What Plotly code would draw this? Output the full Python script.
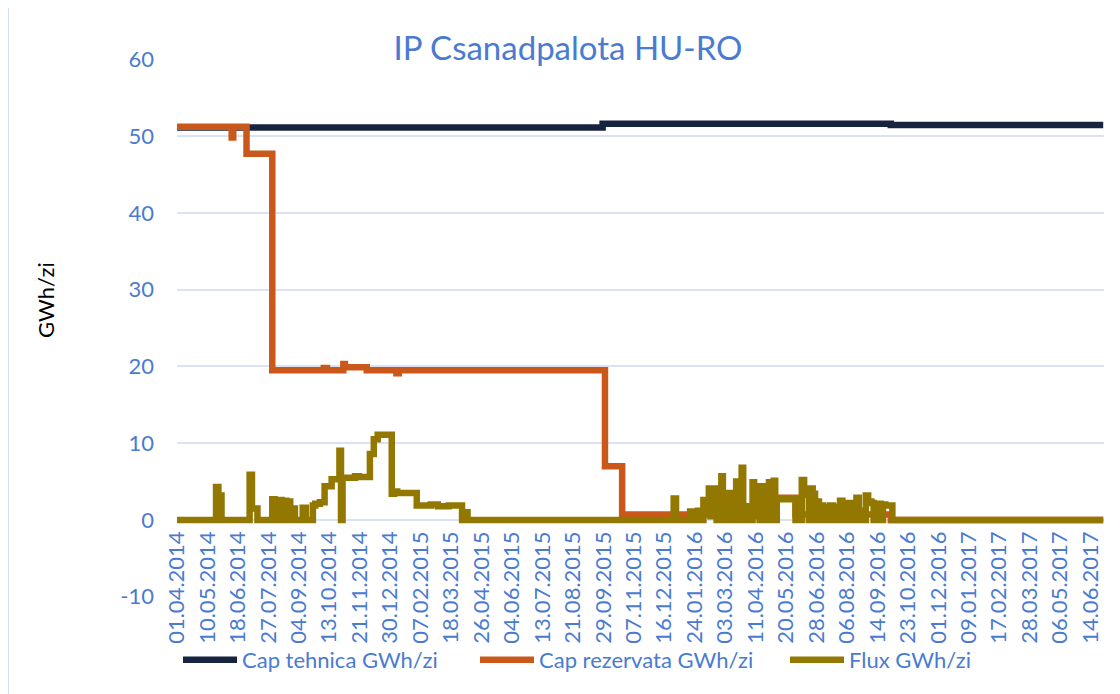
import plotly.graph_objects as go
from datetime import datetime

# ---------------- data ----------------
tick_labels = [
    "01.04.2014", "10.05.2014", "18.06.2014", "27.07.2014", "04.09.2014", "13.10.2014",
    "21.11.2014", "30.12.2014", "07.02.2015", "18.03.2015", "26.04.2015", "04.06.2015",
    "13.07.2015", "21.08.2015", "29.09.2015", "07.11.2015", "16.12.2015", "24.01.2016",
    "03.03.2016", "11.04.2016", "20.05.2016", "28.06.2016", "06.08.2016", "14.09.2016",
    "23.10.2016", "01.12.2016", "09.01.2017", "17.02.2017", "28.03.2017", "06.05.2017",
    "14.06.2017",
]
y_tick_values = [-10, 0, 10, 20, 30, 40, 50, 60]
y_tick_labels = ["-10", "0", "10", "20", "30", "40", "50", "60"]

tehnica_dates = ["2014-04-01", "2015-09-28", "2016-10-01", "2017-06-30"]
tehnica_values = [51.1, 51.6, 51.45, 51.45]

rezervata_dates = [
    "2014-04-01", "2014-06-10", "2014-06-12", "2014-06-29", "2014-08-01", "2014-10-06",
    "2014-10-10", "2014-10-31", "2014-11-02", "2014-11-30", "2015-01-07", "2015-01-10",
    "2015-10-01", "2015-10-23", "2016-05-08", "2016-06-01", "2016-10-01", "2017-06-30",
]
rezervata_values = [
    51.2, 49.8, 51.2, 47.7, 19.5, 19.8,
    19.5, 20.3, 19.9, 19.5, 19.1, 19.5,
    7.0, 0.7, 2.9, 0.7, 0.0, 0.0,
]

flux_dates = [
    "2014-04-01", "2014-05-21", "2014-05-24", "2014-05-28", "2014-07-03", "2014-07-06",
    "2014-07-13", "2014-08-01", "2014-08-04", "2014-08-07", "2014-08-10", "2014-08-13",
    "2014-08-16", "2014-08-19", "2014-08-21", "2014-08-24", "2014-08-27", "2014-08-30",
    "2014-09-09", "2014-09-13", "2014-09-22", "2014-09-25", "2014-10-01", "2014-10-07",
    "2014-10-16", "2014-10-26", "2014-10-28", "2014-10-30", "2014-11-15", "2014-11-20",
    "2014-12-04", "2014-12-09", "2014-12-14", "2015-01-01", "2015-01-04", "2015-01-08",
    "2015-02-02", "2015-02-20", "2015-03-01", "2015-03-15", "2015-04-01", "2015-04-05",
    "2015-04-08", "2015-12-28", "2015-12-31", "2016-01-18", "2016-01-20", "2016-01-28",
    "2016-01-30", "2016-02-04", "2016-02-06", "2016-02-11", "2016-02-13", "2016-02-15",
    "2016-02-19", "2016-02-21", "2016-02-23", "2016-02-27", "2016-02-29", "2016-03-02",
    "2016-03-07", "2016-03-09", "2016-03-12", "2016-03-17", "2016-03-19", "2016-03-24",
    "2016-03-26", "2016-03-30", "2016-04-02", "2016-04-07", "2016-04-09", "2016-04-14",
    "2016-04-16", "2016-04-18", "2016-04-21", "2016-04-23", "2016-04-28", "2016-04-30",
    "2016-05-04", "2016-05-06", "2016-05-08", "2016-06-01", "2016-06-09", "2016-06-12",
    "2016-06-18", "2016-06-20", "2016-06-23", "2016-06-26", "2016-06-28", "2016-07-01",
    "2016-07-03", "2016-07-06", "2016-07-09", "2016-07-12", "2016-07-15", "2016-07-19",
    "2016-07-22", "2016-07-28", "2016-07-31", "2016-08-03", "2016-08-07", "2016-08-10",
    "2016-08-18", "2016-08-21", "2016-08-24", "2016-08-27", "2016-08-30", "2016-09-02",
    "2016-09-06", "2016-09-09", "2016-09-15", "2016-09-18", "2016-09-21", "2016-09-24",
    "2016-09-29", "2016-10-03", "2017-06-30",
]
flux_values = [
    0.0, 4.3, 3.2, 0.0, 5.9, 1.5,
    0.0, 2.7, 0.0, 2.2, 2.6, 0.0,
    2.5, 1.2, 2.4, 0.0, 1.5, 0.0,
    1.6, 0.0, 1.9, 2.1, 2.3, 4.4,
    5.3, 9.0, 0.0, 5.5, 5.7, 5.6,
    8.6, 10.5, 11.1, 3.4, 3.7, 3.5,
    1.9, 2.0, 1.8, 1.9, 0.0, 1.0,
    0.0, 2.8, 0.0, 1.1, 0.0, 1.2,
    0.0, 2.6, 1.0, 4.1, 0.5, 2.0,
    4.1, 0.0, 2.5, 5.7, 0.0, 2.0,
    3.5, 0.0, 1.5, 5.0, 0.0, 6.8,
    0.0, 1.8, 0.0, 4.9, 0.5, 4.4,
    0.0, 3.0, 4.4, 0.0, 4.9, 0.0,
    5.1, 0.0, 2.7, 0.0, 5.2, 3.3,
    0.0, 4.1, 3.4, 0.0, 2.4, 0.0,
    1.9, 0.0, 1.7, 0.0, 1.9, 1.7,
    0.0, 2.5, 0.0, 1.5, 2.2, 0.0,
    2.9, 0.0, 1.2, 0.0, 3.2, 2.4,
    2.2, 0.0, 2.1, 0.0, 2.0, 1.9,
    1.9, 0.0, 0.0,
]

# ---------------- styling ----------------
FONT = "Lato"
BLUE = "#4A7BD0"
GRID = "#D9E3F5"
C_TEH = "#172440"
C_REZ = "#C9581A"
C_FLUX = "#927800"

tickvals = [datetime.strptime(t, "%d.%m.%Y") for t in tick_labels]

W, H = 1120, 694
OFF = 8  # page body margin: the figure is drawn 8px right/down in the screenshot
# desired plot area in screenshot pixels: x 177..1104, y 59..597
L = 177 - OFF
T = 59 - OFF
R = W - (1104 - OFF)
B = H - (597 - OFF)
pw, ph = W - L - R, H - T - B

def px_x(p):
    return (p - OFF - L) / pw

def px_y(p):
    return (H - B - (p - OFF)) / ph

fig = go.Figure()
fig.add_trace(go.Scatter(x=tehnica_dates, y=tehnica_values, mode="lines", legend="legend",
                         name="Cap tehnica GWh/zi", line=dict(color=C_TEH, width=6.5, shape="hv")))
fig.add_trace(go.Scatter(x=rezervata_dates, y=rezervata_values, mode="lines", legend="legend2",
                         name="Cap rezervata GWh/zi", line=dict(color=C_REZ, width=6.5, shape="hv")))
fig.add_trace(go.Scatter(x=flux_dates, y=flux_values, mode="lines", legend="legend3",
                         name="Flux GWh/zi", line=dict(color=C_FLUX, width=6.5, shape="hv")))

def leg(xpix):
    return dict(orientation="h", x=px_x(xpix), y=px_y(660), xanchor="left", yanchor="middle",
                bgcolor="rgba(0,0,0,0)", font=dict(family=FONT, size=22, color=BLUE),
                itemwidth=54, borderwidth=0)

fig.update_layout(
    width=W, height=H,
    margin=dict(l=L, r=R, t=T, b=B, autoexpand=False),
    paper_bgcolor="white", plot_bgcolor="white",
    font=dict(family=FONT, color=BLUE, size=20),
    title=dict(text="IP Csanadpalota HU-RO", x=px_x(568), xref="paper", xanchor="center",
               y=1 - (48 - OFF) / H, yref="container", yanchor="middle",
               font=dict(family=FONT, size=33, color=BLUE)),
    xaxis=dict(type="date", range=["2014-04-01", "2017-07-01"],
               tickvals=tickvals, ticktext=tick_labels, tickangle=-90,
               tickfont=dict(family=FONT, size=22, color=BLUE),
               showgrid=False, zeroline=False, showline=False, ticks="",
               anchor="free", position=10.03 / 70.06, ticklabelstandoff=6, automargin=False),
    yaxis=dict(range=[-10.03, 60.03], tickvals=y_tick_values, ticktext=y_tick_labels,
               showgrid=True, gridcolor=GRID, gridwidth=1.5,
               zeroline=False, showline=False, ticks="", automargin=False,
               tickfont=dict(family=FONT, size=22, color=BLUE), ticklabelstandoff=22),
    legend=leg(178),
    legend2=leg(475),
    legend3=leg(785),
    showlegend=True,
)

fig.add_annotation(text="GWh/zi", textangle=-90, x=px_x(45), y=px_y(300), xref="paper", yref="paper",
                   xanchor="center", yanchor="middle",
                   showarrow=False, font=dict(family=FONT, size=22, color="black"))

# chart border
fig.add_shape(type="rect", xref="paper", yref="paper",
              x0=px_x(8), x1=px_x(1130), y0=px_y(700), y1=px_y(7),
              line=dict(color="#D5DFF2", width=2), fillcolor="rgba(0,0,0,0)", layer="below")

fig.write_html("out.html")
